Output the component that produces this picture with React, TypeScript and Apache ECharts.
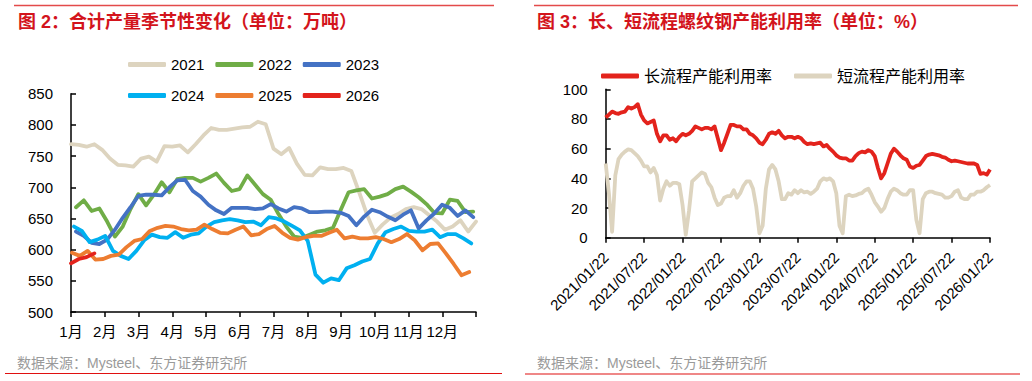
import React, { useEffect, useRef } from "react";
import * as echarts from "echarts";

// ---------- Left chart: weekly output by year (万吨) ----------
const monthLabels = ["1月", "2月", "3月", "4月", "5月", "6月", "7月", "8月", "9月", "10月", "11月", "12月"];
const yearNames = ["2021", "2022", "2023", "2024", "2025", "2026"];
const yearColors = ["#DDD4BF", "#70AD47", "#4472C4", "#00B0F0", "#ED7D31", "#E3231C"];
// first week position of each year's series, in months from 1 Jan
const yearStart = [0, 0.148, 0.148, 0.09, 0.03, 0];
const WEEK = 12 / 52;

const y2021 = [769, 768, 765, 769, 760, 746, 736, 735, 733, 746, 749, 741, 766, 765, 767, 756, 769, 783, 795, 792, 792, 794, 796, 797, 805, 801, 762, 753, 763, 738, 720, 719, 732, 729, 729, 731, 726, 692, 656, 627, 640, 651, 657, 665, 668, 665, 655, 645, 632, 637, 647, 629, 645];
const y2022 = [668, 679, 662, 666, 645, 621, 637, 665, 689, 671, 688, 708, 692, 713, 715, 715, 709, 715, 722, 707, 694, 697, 719, 704, 689, 680, 657, 637, 621, 619, 624, 629, 631, 635, 664, 692, 695, 697, 682, 685, 689, 697, 701, 693, 684, 673, 659, 658, 680, 678, 660, 661];
const y2023 = [629, 622, 611, 609, 616, 632, 651, 668, 686, 688, 688, 687, 700, 711, 712, 694, 685, 672, 663, 657, 667, 667, 667, 665, 666, 673, 666, 661, 668, 666, 660, 660, 661, 661, 659, 654, 639, 653, 664, 660, 653, 647, 656, 663, 634, 647, 658, 672, 667, 654, 663, 652];
const y2024 = [637, 630, 612, 616, 622, 598, 590, 585, 598, 615, 624, 620, 619, 628, 619, 624, 626, 637, 644, 647, 649, 647, 644, 645, 639, 652, 650, 645, 638, 631, 614, 560, 547, 554, 551, 570, 575, 581, 585, 610, 628, 633, 637, 630, 629, 629, 632, 620, 625, 625, 618, 610];
const y2025 = [595, 590, 598, 584, 585, 590, 592, 604, 614, 617, 630, 635, 638, 637, 633, 631, 632, 640, 633, 627, 626, 632, 637, 623, 625, 633, 638, 627, 619, 616, 620, 622, 622, 627, 632, 618, 621, 618, 618, 620, 617, 612, 617, 625, 615, 599, 609, 610, 594, 577, 559, 564];
const y2026 = [578, 585, 588, 594];
const yearValues = [y2021, y2022, y2023, y2024, y2025, y2026];

// ---------- Right chart: capacity utilisation (%), half-month steps from 2021/01/22 ----------
const dateLabels = ["2021/01/22", "2021/07/22", "2022/01/22", "2022/07/22", "2023/01/22", "2023/07/22", "2024/01/22", "2024/07/22", "2025/01/22", "2025/07/22", "2026/01/22"];
const rateNames = ["长流程产能利用率", "短流程产能利用率"];
const rateColors = ["#E3231C", "#DDD4BF"];
const longRate = [
  81, 83, 85, 84, 83.5, 84.5, 85, 88, 87, 88, 90, 83, 79, 77, 78, 79, 70, 65, 69, 69,
  66, 67, 65, 68, 70, 69, 70, 72, 75, 74, 73, 74, 74, 73, 75, 67, 59, 64, 70, 76,
  76, 75, 75, 73, 73, 70, 69, 67, 64, 63, 66, 70, 71, 70, 72, 69, 67, 68, 68, 67, 68,
  67, 64.5, 63, 63.5, 63, 63.5, 64, 61.5, 62.5, 60, 58, 55.5, 54, 53.5, 53.5, 52, 52, 55, 57, 58,
  57.5, 59, 58, 55, 47, 40, 43.5, 50, 56.5, 60, 58, 55.5, 53.5, 52.5, 48, 47, 48.5, 49, 52, 55,
  56, 56.5, 56, 55.5, 54.5, 54, 52.5, 51.5, 52, 51.5, 51, 50.5, 50, 50, 50, 49, 43, 43.5, 42.5, 46,
];
const shortRate = [
  50, 30, 4, 42, 53, 56, 58, 59.5, 59, 57, 55, 52, 48, 48, 44, 47, 42, 25, 33, 38,
  35, 37, 37, 36, 22, 2, 18, 38, 40, 42, 44, 43, 37, 34, 27, 22, 23, 27, 28, 28,
  32, 27, 30, 35, 38, 38, 33, 21, 3, 8, 33, 46, 49, 46, 38, 26, 26, 30, 29, 32, 30,
  32, 30.5, 31, 29.5, 31, 33, 38, 40, 39, 40, 38, 30, 8, 3, 28, 29, 28, 28.5, 29.5, 30,
  32, 33, 29, 24, 21, 17.5, 20, 26, 31, 33, 32, 30, 29, 29, 32, 32, 12, 3, 26, 30,
  31, 31, 30, 29.5, 29, 27, 27, 28, 31, 32, 27, 26, 26, 29, 29, 31, 31, 32, 34, 35.5,
];
const rateValues = [longRate, shortRate];
const HALF_MONTH = 0.5;

const FONT = "Arial, 'Liberation Sans', 'Noto Sans CJK SC', sans-serif";
const TITLE_FONT = "'Liberation Sans', 'Noto Sans CJK SC', sans-serif";
const AXIS_COLOR = "#000";

export default function App() {
  const ref = useRef<HTMLDivElement>(null);

  useEffect(() => {
    if (!ref.current) return;
    const chart = echarts.init(ref.current, undefined, { renderer: "svg" });

    const axisLine = { lineStyle: { color: AXIS_COLOR, width: 1.5 } };
    const label = { color: "#000", fontFamily: FONT };

    const leftSeries = yearNames.map((name, k) => ({
      name,
      type: "line",
      xAxisIndex: 0,
      yAxisIndex: 0,
      symbol: "none",
      showSymbol: false,
      lineStyle: { width: 3.8, color: yearColors[k], cap: "round", join: "round" },
      itemStyle: { color: yearColors[k] },
      data: yearValues[k].map((v, i) => [yearStart[k] + i * WEEK, v]),
    }));

    const rightSeries = rateNames.map((name, k) => ({
      name,
      type: "line",
      xAxisIndex: 1,
      yAxisIndex: 1,
      symbol: "none",
      showSymbol: false,
      lineStyle: { width: 3.8, color: rateColors[k], join: "round" },
      itemStyle: { color: rateColors[k] },
      data: rateValues[k].map((v, i) => [i * HALF_MONTH, v]),
    }));

    const legendBase = {
      icon: "roundRect",
      itemWidth: 38,
      itemHeight: 5,
      padding: 0,
      selectedMode: false,
    };

    chart.setOption({
      animation: false,
      backgroundColor: "#fff",
      grid: [
        { left: 71, top: 93.7, width: 405, height: 218.3 },
        { left: 605.7, top: 89.3, width: 384.3, height: 148.4 },
      ],
      legend: [
        { ...legendBase, data: yearNames.slice(0, 3), left: 128, top: 57, itemGap: 11, textStyle: { ...label, fontSize: 15 } },
        { ...legendBase, data: yearNames.slice(3), left: 128, top: 88, itemGap: 11, textStyle: { ...label, fontSize: 15 } },
        { ...legendBase, data: rateNames, left: 601, top: 68, itemGap: 22, textStyle: { ...label, fontSize: 16 } },
      ],
      xAxis: [
        {
          type: "value",
          gridIndex: 0,
          min: 0,
          max: 12,
          interval: 1,
          splitLine: { show: false },
          axisLine,
          axisTick: { show: true, inside: false, length: 5, lineStyle: { color: AXIS_COLOR, width: 1.5 } },
          axisLabel: { ...label, fontSize: 15, margin: 12, formatter: (v: number) => monthLabels[v] ?? "" },
        },
        {
          type: "value",
          gridIndex: 1,
          min: 0,
          max: 60,
          interval: 6,
          splitLine: { show: false },
          axisLine,
          axisTick: { show: true, inside: false, length: 5, lineStyle: { color: AXIS_COLOR, width: 1.5 } },
          axisLabel: { ...label, fontSize: 15, margin: 17, rotate: 45, formatter: (v: number) => dateLabels[Math.round(v / 6)] ?? "" },
        },
      ],
      yAxis: [
        {
          type: "value",
          gridIndex: 0,
          min: 500,
          max: 850,
          interval: 50,
          splitLine: { show: false },
          axisLine: { show: true, ...axisLine },
          axisTick: { show: true, inside: true, length: 5, lineStyle: { color: AXIS_COLOR, width: 1.5 } },
          axisLabel: { ...label, fontSize: 15, margin: 18 },
        },
        {
          type: "value",
          gridIndex: 1,
          min: 0,
          max: 100,
          interval: 20,
          splitLine: { show: false },
          axisLine: { show: true, ...axisLine },
          axisTick: { show: true, inside: true, length: 5, lineStyle: { color: AXIS_COLOR, width: 1.5 } },
          axisLabel: { ...label, fontSize: 15, margin: 18 },
        },
      ],
      series: [...leftSeries, ...rightSeries],
      graphic: [
        { type: "line", shape: { x1: 14, y1: 5.5, x2: 494, y2: 5.5 }, style: { stroke: "#E34A4A", lineWidth: 1.5 } },
        { type: "line", shape: { x1: 534, y1: 5.5, x2: 1018, y2: 5.5 }, style: { stroke: "#E34A4A", lineWidth: 1.5 } },
        { type: "line", shape: { x1: 5, y1: 373.5, x2: 502, y2: 373.5 }, style: { stroke: "#E01010", lineWidth: 1.2 } },
        { type: "line", shape: { x1: 525, y1: 374, x2: 1020, y2: 374 }, style: { stroke: "#E01010", lineWidth: 1.2 } },
        {
          type: "text",
          x: 18,
          y: 22,
          style: { text: "图 2：合计产量季节性变化（单位：万吨）", fill: "#D3141C", font: `bold 18px ${TITLE_FONT}`, verticalAlign: "middle" },
        },
        {
          type: "text",
          x: 537,
          y: 22,
          style: { text: "图 3：长、短流程螺纹钢产能利用率（单位：%）", fill: "#D3141C", font: `bold 18px ${TITLE_FONT}`, verticalAlign: "middle" },
        },
        {
          type: "text",
          x: 17,
          y: 363,
          style: { text: "数据来源：Mysteel、东方证券研究所", fill: "#9A9A9A", font: `14px ${FONT}`, verticalAlign: "middle" },
        },
        {
          type: "text",
          x: 537,
          y: 363,
          style: { text: "数据来源：Mysteel、东方证券研究所", fill: "#9A9A9A", font: `14px ${FONT}`, verticalAlign: "middle" },
        },
      ],
    });

    return () => chart.dispose();
  }, []);

  return <div ref={ref} style={{ position: "absolute", left: 0, top: 0, width: 1032, height: 381, background: "#fff" }} />;
}
